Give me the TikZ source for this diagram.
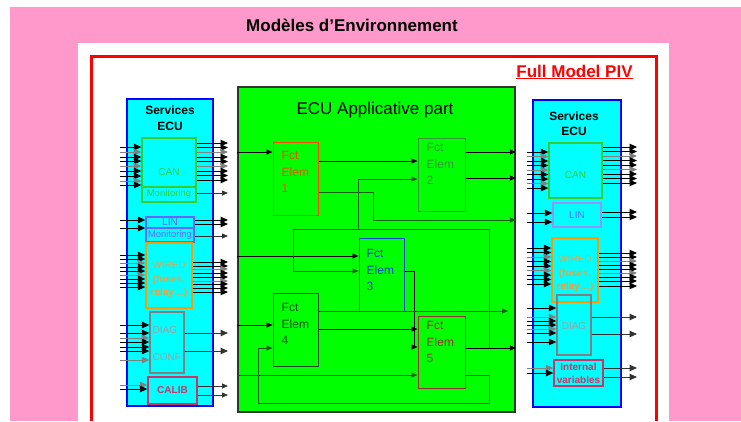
\documentclass[tikz,border=0pt]{standalone}
\usepackage{fontspec}
\setmainfont{Liberation Sans}
\usetikzlibrary{arrows.meta}
\definecolor{pinkbg}{HTML}{FF99CC}
\definecolor{cyanfill}{HTML}{00FFFF}
\definecolor{ecufill}{HTML}{00FF00}
\definecolor{eculine}{HTML}{333333}
\definecolor{canG}{HTML}{33CC33}
\definecolor{linB}{HTML}{6666FF}
\definecolor{wirO}{HTML}{FF9900}
\definecolor{wirT}{HTML}{FF9933}
\definecolor{diagG}{HTML}{808080}
\definecolor{diagT}{HTML}{A0A0A0}
\definecolor{calR}{HTML}{CC3366}
\definecolor{fa}{HTML}{FF4400}
\definecolor{fb}{HTML}{339933}
\definecolor{fc}{HTML}{0044CC}
\definecolor{fd}{HTML}{1A4D1A}
\definecolor{fe}{HTML}{993333}
\definecolor{dkg}{HTML}{106010}
\newcommand\fsz[2]{\fontsize{#1}{#2}\selectfont}
\begin{document}
\begin{tikzpicture}[x=1pt,y=-1pt,
  panel/.style={draw=blue, line width=1.6pt, fill=cyanfill, inner sep=0pt},
  svc/.style={draw=#1, line width=1.3pt, inner sep=0pt},
  fct/.style={draw=#1, line width=1pt, inner sep=0pt},
  fcttext/.style={anchor=north west, align=left, inner sep=0pt, text=#1, font=\fsz{12}{16.5}},
  arr/.style={-{Triangle[length=6pt,width=5pt]}, line width=0.8pt},
  parr/.style={-{Triangle[length=7.5pt,width=6.5pt]}, line width=1pt},
  lbl/.style={inner sep=0pt, align=center}]
\useasboundingbox (0,0) rectangle (741,421);
% page background, slide frame and model frame
\fill[white] (0,0) rectangle (741,421);
\fill[pinkbg] (10,7) rectangle (741,421);
\fill[white] (78,43) rectangle (669,421);
\draw[red, line width=3pt] (91,421) -- (91,56.5) -- (656.5,56.5) -- (656.5,421);
\node[font=\bfseries\fsz{17}{20}] (title) at (352,25) {Modèles d’Environnement};
\node[font=\bfseries\fsz{17}{20}, text=red] (piv) at (574.5,72) {\underline{Full Model PIV}};

% ---------------- left services panel ----------------
\node[panel, minimum width=86pt, minimum height=307pt] (lp) at (170,252.5) {};
\node[lbl, font=\bfseries\fsz{12}{16}] (lpt) at (170,118) {Services\\ECU};
\node[svc=canG, minimum width=54pt, minimum height=49pt] (lcan) at (169,162.5) {};
\node[lbl, text=canG, font=\fsz{10}{12}] at (169,172) {CAN};
\node[svc=canG, minimum width=54pt, minimum height=15pt, text=canG, font=\fsz{9.5}{11}] (lcanm) at (169,194.5) {Monitoring};
\node[svc=linB, minimum width=48pt, minimum height=11pt, text=linB, font=\fsz{10}{11}] (llin) at (170,222.5) {LIN};
\node[svc=linB, minimum width=48pt, minimum height=14pt, text=linB, font=\fsz{9.4}{11}] (llinm) at (170,235) {Monitoring};
\node[svc=wirO, minimum width=46pt, minimum height=65pt] (lwir) at (169,275.5) {};
\node[lbl, text=wirT, font=\fsz{10}{13.5}] at (169,280) {WIRED\\\textbf{(fuses,}\\\textbf{relay…)}};
\node[svc=diagG, minimum width=34pt, minimum height=61pt] (ldiag) at (167,342.5) {};
\node[lbl, text=diagT, font=\fsz{10}{12}, anchor=west] at (152.5,330) {DIAG};
\node[lbl, text=diagT, font=\fsz{10}{12}, anchor=west] at (152.5,357) {CONF};
\node[svc=calR, minimum width=49pt, minimum height=27pt, text=calR, font=\bfseries\fsz{10}{12}] (lcal) at (172.5,390.5) {CALIB};

\coordinate (lin) at (120,0);
\coordinate (lout) at (228,0);
\foreach \y/\c in {147/black,152/gray,157/black,161/black,166/gray,171/black,176/black,181/gray,185/black}
  \draw[parr,\c] (lin |- 0,\y) -- (lcan.west |- 0,\y);
\foreach \y/\c in {143/black,147.5/black,152/gray,157/black,161.5/black,166/gray,171/black,175.5/black,180/black}
  \draw[parr,\c] (lcan.east |- 0,\y) -- (lout |- 0,\y);
\draw[arr,black!80] (lcanm.east |- 0,193) -- (lout |- 0,193);
\foreach \y in {220,228}
  \draw[parr] (lin |- 0,\y) -- (llin.west |- 0,\y);
\foreach \y in {220,224}
  \draw[parr] (llin.east |- 0,\y) -- (lout |- 0,\y);
\draw[arr,black!80] (llinm.east |- 0,236) -- (lout |- 0,236);
\foreach \y/\c in {255/black,259/black,263/gray,267/black,271/black,275/gray,279/black,283/black,287/black}
  \draw[parr,\c] (lin |- 0,\y) -- (lwir.west |- 0,\y);
\foreach \y/\c in {262/black,266/black,269/gray,273/black,277/black,281/gray,284/black,288/black,292/black}
  \draw[parr,\c] (lwir.east |- 0,\y) -- (lout |- 0,\y);
\foreach \y/\c in {325/black,333/black,338/gray,342/black,347/black,351/black,360/gray}
  \draw[parr,\c] (lin |- 0,\y) -- (ldiag.west |- 0,\y);
\foreach \y in {333,351}
  \draw[parr,black!80] (ldiag.east |- 0,\y) -- (lout |- 0,\y);
\foreach \y/\c in {385/gray,389/black}
  \draw[parr,\c] (lin |- 0,\y) -- (lcal.west |- 0,\y);
\foreach \y in {386,395}
  \draw[arr,black!80] (lcal.east |- 0,\y) -- (lout |- 0,\y);

% ---------------- right services panel ----------------
\node[panel, minimum width=88pt, minimum height=307pt] (rp) at (577,253.5) {};
\node[lbl, font=\bfseries\fsz{12}{15}] (rpt) at (574,124) {Services\\ECU};
\node[svc=canG, minimum width=53pt, minimum height=55pt] (rcan) at (575.5,170.5) {};
\node[lbl, text=canG, font=\fsz{10}{12}] at (575.5,175) {CAN};
\node[svc=linB!70, minimum width=48pt, minimum height=24pt, text=linB, font=\fsz{10}{12}] (rlin) at (577,215) {LIN};
\node[svc=wirO, minimum width=46pt, minimum height=64pt] (rwir) at (575,270) {};
\node[lbl, text=wirT, font=\fsz{10}{13.5}] at (575,274) {WIRED\\\textbf{(fuses,}\\\textbf{relay…)}};
\node[svc=diagG, minimum width=34pt, minimum height=60pt] (rdiag) at (574,325) {};
\node[lbl, text=diagT, font=\fsz{10}{12}] at (574,326) {DIAG};
\node[svc=calR, minimum width=49pt, minimum height=26pt, text=calR, font=\bfseries\fsz{10}{13}, align=center] (rint) at (578.5,373) {Internal\\variables};

\coordinate (rin) at (527,0);
\coordinate (rout) at (637,0);
\foreach \y/\c in {152/black,156.5/gray,161/black,165.5/black,170/gray,174.5/black,179/black,183.5/gray,188/black}
  \draw[parr,\c] (rin |- 0,\y) -- (rcan.west |- 0,\y);
\foreach \y/\c in {147/black,151.5/black,156/gray,160.5/black,165/black,169.5/gray,174/black,178.5/black,183/black}
  \draw[parr,\c] (rcan.east |- 0,\y) -- (rout |- 0,\y);
\foreach \y in {213,222}
  \draw[parr] (rin |- 0,\y) -- (rlin.west |- 0,\y);
\foreach \y in {212,217}
  \draw[parr] (rlin.east |- 0,\y) -- (rout |- 0,\y);
\foreach \y/\c in {248/black,252.5/black,257/gray,261.5/black,266/black,270.5/gray,275/black,279.5/black,284/black}
  \draw[parr,\c] (rin |- 0,\y) -- (rwir.west |- 0,\y);
\foreach \y/\c in {253/black,257/black,261/gray,265/black,269/black,273/gray,277/black,281/black,286/black}
  \draw[parr,\c] (rwir.east |- 0,\y) -- (rout |- 0,\y);
\foreach \y/\c in {308/black,317/gray,321/black,325/black,329/gray,333/black,342/black}
  \draw[parr,\c] (rin |- 0,\y) -- (rdiag.west |- 0,\y);
\foreach \y in {317,334}
  \draw[parr,black!80] (rdiag.east |- 0,\y) -- (rout |- 0,\y);
\foreach \y/\c in {368/gray,373/black}
  \draw[parr,\c] (rin |- 0,\y) -- (rint.west |- 0,\y);
\foreach \y in {368,377}
  \draw[parr,black!80] (rint.east |- 0,\y) -- (rout |- 0,\y);

% ---------------- applicative part ----------------
\node[draw=eculine, line width=1.6pt, fill=ecufill, minimum width=277pt, minimum height=325pt, inner sep=0pt] (ecu) at (376.5,249.5) {};
\node[font=\fsz{17}{20}] (ecut) at (375,110) {ECU Applicative part};

\node[fct=fa, minimum width=45pt, minimum height=73pt] (f1) at (295.5,178.5) {};
\node[fcttext=fa] at ([xshift=9pt,yshift=-10pt]f1.north west) {Fct\\Elem\\1};
\node[fct=fb, minimum width=47pt, minimum height=73pt] (f2) at (441.5,174.5) {};
\node[fcttext=fb] at ([xshift=9pt,yshift=-6pt]f2.north west) {Fct\\Elem\\2};
\node[fct=fc, minimum width=45pt, minimum height=73pt] (f3) at (381.5,274.5) {};
\node[fcttext=fc] at ([xshift=8pt,yshift=-12pt]f3.north west) {Fct\\Elem\\3};
\node[fct=fd, minimum width=45pt, minimum height=73pt] (f4) at (295.5,329.5) {};
\node[fcttext=fd] at ([xshift=9pt,yshift=-11pt]f4.north west) {Fct\\Elem\\4};
\node[fct=fe, minimum width=47pt, minimum height=72pt] (f5) at (441.5,352) {};
\node[fcttext=fe] at ([xshift=9pt,yshift=-6pt]f5.north west) {Fct\\Elem\\5};

\coordinate (j1) at (489,348);
\coordinate (o4) at (508,311);
% inputs coming from the services
\draw[arr] (ecu.west |- 0,152) -- (f1.west |- 0,152);
\draw[arr] (ecu.west |- 0,256) -- (f3.west |- 0,256);
\draw[arr] (ecu.west |- 0,325) -- (f4.west |- 0,325);
\draw[arr,dkg] (ecu.west |- 0,375) -- (f5.west |- 0,375);
% element to element links
\draw[arr] (f1.east |- 0,161) -- (f2.west |- 0,161);
\draw[arr,dkg] (f1.east |- 0,192) -- ++(55,0) |- (ecu.east |- 0,220);
\draw[arr] (f2.east |- 0,152) -- (ecu.east |- 0,152);
\draw[arr] (f2.east |- 0,178) -- (ecu.east |- 0,178);
\draw[arr] (f5.east |- 0,348) -- (ecu.east |- 0,348);
\draw[arr,dkg] (j1) -- ++(0,-119) -- ++(-196,0) |- (f3.west |- 0,271);
\draw[arr,dkg] (f3.west |- 0,229) |- (f2.west |- 0,179);
\draw[arr] (f3.east |- 0,271) -- ++(10,0) |- (f5.west |- 0,347);
\draw[arr,dkg] (f4.east |- 0,311) -- (o4);
\draw[arr] (f4.east |- 0,329) -- (f5.west |- 0,329);
\draw[arr,dkg] (f5.east |- 0,375) -- ++(24,0) -- ++(0,28) -- ++(-231,0) |- (f4.west |- 0,348);
\end{tikzpicture}
\end{document}
